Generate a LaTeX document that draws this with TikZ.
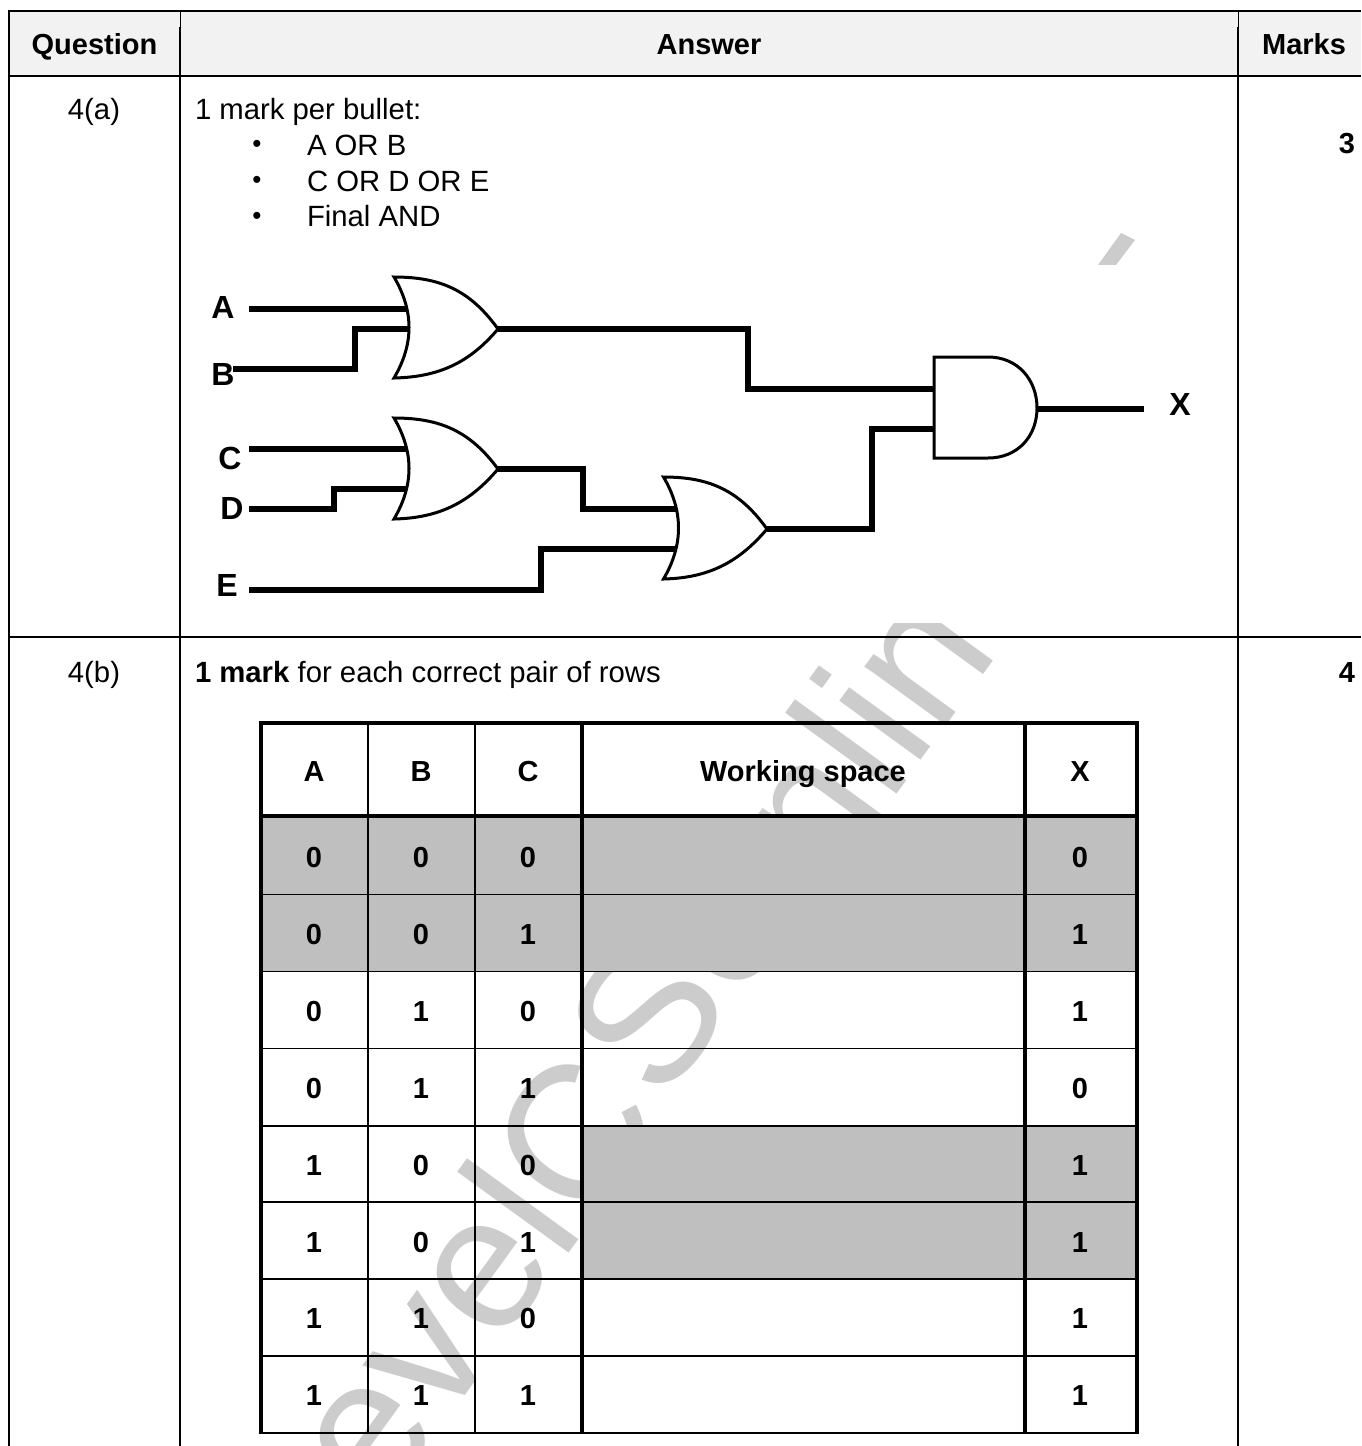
\documentclass[tikz,border=0pt]{standalone}
\usepackage{fontspec}
\setmainfont{Liberation Sans}
\tikzset{
  txt/.style={inner sep=0pt,outer sep=0pt,font=\fontsize{29.3}{29}\selectfont,text=black},
  btxt/.style={txt,anchor=base,font=\fontsize{29}{29}\selectfont\bfseries},
  ltxt/.style={txt,anchor=base west},
  lab/.style={inner sep=0pt,outer sep=0pt,font=\fontsize{32}{32}\selectfont\bfseries},
  wm/.style={inner sep=0pt,outer sep=0pt,anchor=base west,rotate=54,text=wmgray,font=\fontsize{190}{190}\selectfont},
  wire/.style={line width=5.2pt,line join=miter,line cap=butt},
  gate/.style={line width=3pt,line join=miter},
  rule/.style={line width=2pt,black},
  thick rule/.style={line width=4pt,black},
  thin rule/.style={line width=1.6pt,black}
}
\definecolor{wmgray}{HTML}{CCCCCC}
\definecolor{cellgray}{HTML}{BFBFBF}
\definecolor{headgray}{HTML}{F2F2F2}
\begin{document}
\begin{tikzpicture}[x=1pt,y=-1pt]
\useasboundingbox (0,0) rectangle (1361,1446);
\fill[white] (0,0) rectangle (1361,1446);
% watermark
\begin{scope}
\clip (0,0) rectangle (1361,1446);
\node[wm] (wm1) at (381,1511) {evel};
\node[wm] (wm2) at (586,1229) {C};
\node[wm] (wm5) at (662,1105) {S};
\node[wm] (wm6) at (737,1002) {o};
\node[wm] (wm3) at (827,890) {nlin};
\fill[wmgray] (1121,233) -- (1135,240) -- (1116,265) -- (1098,265) -- cycle;
\end{scope}
% opaque figure
\fill[white] (190,265) rectangle (1125,623);
% header band
\fill[headgray] (9,11) rectangle (1361,76);
% grey cells
\fill[cellgray] (261,816) rectangle (1137,971.5);
\fill[cellgray] (582,1126) rectangle (1137,1279);
% outer table
\draw[rule] (9,1446) -- (9,10.5) -- (1361,10.5);
\draw[rule] (9,76) -- (1361,76);
\draw[rule] (9,637) -- (1361,637);
\draw[line width=1pt] (180,10.5) -- (180,27);
\draw[line width=1pt] (1238,10.5) -- (1238,27);
\draw[rule] (180,27) -- (180,1446);
\draw[rule] (1238,27) -- (1238,1446);
% inner table
\foreach \y in {894.5,971.5,1048.5,1126,1202,1279,1356}{\draw[thin rule] (261,\y) -- (1137,\y);}
\draw[thin rule] (258.5,1433) -- (1139,1433);
\draw[thin rule] (368,723) -- (368,1433);
\draw[thin rule] (475,723) -- (475,1433);
\draw[thick rule] (258.5,723.3) -- (1139.3,723.3);
\draw[thick rule] (260.5,723) -- (260.5,1433);
\draw[thick rule] (582.3,723) -- (582.3,1433);
\draw[thick rule] (1024.5,723) -- (1024.5,1433);
\draw[thick rule] (1137.3,723) -- (1137.3,1433);
\draw[thick rule] (261,816) -- (1137,816);
% outer text
\node[btxt] (hq) at (94.5,54) {Question};
\node[btxt] (ha) at (709,54) {Answer};
\node[btxt] (hm) at (1304,54) {Marks};
\node[txt,anchor=base] (qa) at (94,119.5) {4(a)};
\node[txt,anchor=base] (qb) at (94,682.5) {4(b)};
\node[btxt] (ma) at (1347,153.5) {3};
\node[btxt] (mb) at (1347,682.5) {4};
\node[ltxt] (t1) at (195,119) {1 mark per bullet:};
\node[txt,font=\fontsize{26}{26}\selectfont] (b1) at (257,146.5) {•};
\node[txt,font=\fontsize{26}{26}\selectfont] (b2) at (257,182.5) {•};
\node[txt,font=\fontsize{26}{26}\selectfont] (b3) at (257,218.5) {•};
\node[ltxt] (t2) at (307,155) {A OR B};
\node[ltxt] (t3) at (307,191) {C OR D OR E};
\node[ltxt] (t4) at (307,226) {Final AND};
\node[ltxt] (t5) at (195,682) {\textbf{1 mark} for each correct pair of rows};
% inner table text
\foreach \name/\x/\s in {tA/314/A,tB/421/B,tC/528/C,tW/803/Working space,tX/1080/X}{
  \node[btxt] (\name) at (\x,781.5) {\s};}
\foreach \r/\y/\a/\b/\c/\d in {1/867.5/0/0/0/0,2/944.5/0/0/1/1,3/1021.5/0/1/0/1,4/1098.5/0/1/1/0,5/1175.5/1/0/0/1,6/1252.5/1/0/1/1,7/1328.5/1/1/0/1,8/1405.5/1/1/1/1}{
  \node[btxt] (a\r) at (314,\y) {\a};
  \node[btxt] (b\r) at (421,\y) {\b};
  \node[btxt] (c\r) at (528,\y) {\c};
  \node[btxt] (x\r) at (1080,\y) {\d};
}
% circuit pins
\coordinate (pA) at (249,309);
\coordinate (pB) at (233,369);
\coordinate (pC) at (249,449);
\coordinate (pD) at (249,509);
\coordinate (pE) at (249,590);
\coordinate (o1a) at (409,309);
\coordinate (o1b) at (410,329);
\coordinate (o1y) at (498,329);
\coordinate (o2a) at (408,449);
\coordinate (o2b) at (408,489);
\coordinate (o2y) at (498,469);
\coordinate (o3a) at (677,509);
\coordinate (o3b) at (677,549);
\coordinate (o3y) at (767,529);
\coordinate (and1) at (934,389);
\coordinate (and2) at (934,429);
\coordinate (andy) at (1037,409);
\coordinate (pX) at (1144,409);
% wires
\draw[wire] (pA) -- (o1a);
\draw[wire] (pB) -- (355,369) |- (o1b);
\draw[wire] (pC) -- (o2a);
\draw[wire] (pD) -- (334,509) |- (o2b);
\draw[wire] (pE) -- (541,590) |- (o3b);
\draw[wire] (o1y) -- (748,329) |- (and1);
\draw[wire] (o2y) -- (583,469) |- (o3a);
\draw[wire] (o3y) -- (872,529) |- (and2);
\draw[wire] (andy) -- (pX);
% gates
\draw[gate,fill=white] (394,277) .. controls (440,277) and (470,290) .. (498,329) .. controls (470,362) and (440,377) .. (394,378) .. controls (414,344) and (414,311) .. cycle;
\draw[gate,fill=white] (394,418) .. controls (440,418) and (470,431) .. (498,469) .. controls (470,502) and (440,518) .. (394,519) .. controls (414,485) and (414,452) .. cycle;
\draw[gate,fill=white] (663.5,477) .. controls (709,477) and (739,490) .. (767,529) .. controls (739,562) and (709,578) .. (663.5,579) .. controls (683.5,545) and (683.5,511) .. cycle;
\draw[gate,fill=white] (934,357) -- (988,357) .. controls (1018,357) and (1037,380) .. (1037,408) .. controls (1037,436) and (1018,458) .. (988,458) -- (934,458) -- cycle;
% labels
\node[lab] (lA) at (223,307) {A};
\node[lab] (lB) at (223,374) {B};
\node[lab] (lC) at (230,458) {C};
\node[lab] (lD) at (232,508) {D};
\node[lab] (lE) at (227,585) {E};
\node[lab] (lX) at (1180,404) {X};
\end{tikzpicture}
\end{document}
